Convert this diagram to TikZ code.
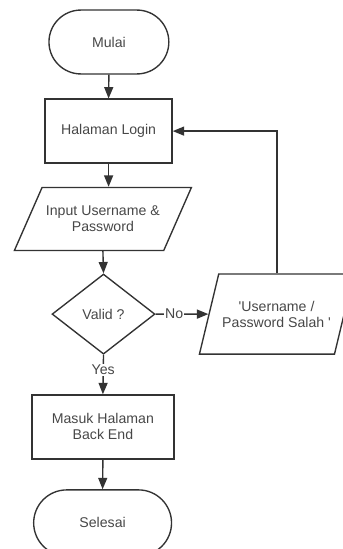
\documentclass[tikz,border=0pt]{standalone}
\usepackage{fontspec}
\setmainfont{Liberation Sans}
\usetikzlibrary{shapes.geometric,shapes.misc,arrows.meta}

\begin{document}
\begin{tikzpicture}[
        font=\fontsize{13.4}{15.2}\selectfont,
        every node/.style={text=black!72},
        box/.style={draw=black!80, line width=1.3pt, minimum width=4.23cm, minimum height=2.13cm, align=center},
        terminal/.style={box, rounded rectangle},
        io/.style={box, trapezium, trapezium stretches body, trapezium left angle=50, trapezium right angle=130},
        decision/.style={box, diamond, inner sep=0pt},
        flow/.style={draw=black!80, line width=1.3pt, -{Triangle[length=3.8mm,width=3mm]}}
    ]
        \useasboundingbox (0,0) rectangle (11.4,-18.3);

        \node[terminal] (mulai) at (3.63,-1.4) {Mulai};
        \node[box] (login) at (3.62,-4.37) {Halaman Login};
        \node[io, minimum width=5.9cm, minimum height=2.1cm] (input) at (3.43,-7.3) {Input Username \&\\Password};
        \node[decision, minimum width=3.43cm, minimum height=2.67cm] (valid) at (3.45,-10.47) {Valid ?};
        \node[io, trapezium left angle=60, trapezium right angle=120, minimum width=4.37cm, minimum height=2.67cm] (salah) at (9.22,-10.47) {\textquotesingle Username /\\Password Salah \textquotesingle};
        \node[box, minimum width=4.73cm] (masuk) at (3.43,-14.23) {Masuk Halaman\\Back End};
        \node[terminal, minimum width=4.83cm, minimum height=2.2cm] (selesai) at (3.42,-17.43) {Selesai};
        \coordinate (turn) at (9.23,-4.37);

        \draw[flow] (mulai.south) -- (login.north);
        \draw[flow] (login.south) -- (login.south |- input.north);
        \draw[flow] (input.south) -- (valid.north);
        \draw[flow] (valid.east) -- node[fill=white, inner sep=1pt, pos=0.35] {No} (salah.west);
        \draw[flow] (valid.south) -- node[fill=white, inner sep=1pt, pos=0.38] {Yes} (masuk.north);
        \draw[flow] (masuk.south) -- (selesai.north);
        \draw[flow] (salah.north -| turn) -- (turn) -- (login.east);
    \end{tikzpicture}
\end{document}
